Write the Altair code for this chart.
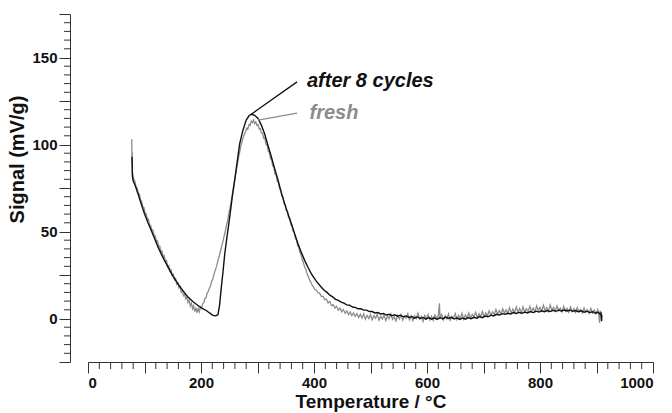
import altair as alt
import pandas as pd

# DSC-type signal (mV/g) versus temperature (°C) for two samples

# Sample after 8 cycles
after_temp = [
    78, 78.5, 80, 84, 88.5, 94, 100, 106, 112, 118, 124, 132, 141.6, 150, 159, 168,
    177, 186, 194.7, 202, 209.5, 215, 221, 226, 230, 233, 236, 239, 242, 246, 250.8,
    255, 259.6, 264, 268.5, 274, 280, 285, 289, 295, 301, 307, 312.7, 318.5, 324.6,
    330.5, 336.5, 342, 348, 354, 360, 366, 371.7, 377.5, 383.5, 389.5, 395.4, 404,
    413, 418, 423, 428, 433, 438, 443, 448, 453, 458, 463, 468, 473, 478, 483, 488,
    493, 498, 503, 508, 513, 518, 523, 528, 533, 538, 543, 548, 553, 558, 563, 568,
    573, 578, 583, 588, 593, 598, 603, 608, 613, 618, 623, 628, 633, 638, 643, 648,
    653, 658, 663, 668, 673, 678, 683, 688, 693, 698, 703, 708, 713, 718, 723, 728,
    733, 738, 743, 748, 753, 758, 763, 768, 773, 778, 783, 788, 793, 798, 803, 808,
    813, 818, 823, 828, 833, 838, 843, 848, 853, 858, 863, 868, 873, 878, 883, 888,
    893, 898, 903, 906, 908, 909, 909.5,
]
after_signal = [
    93, 82, 79, 76, 71.7, 66, 60.2, 55.2, 50.6, 45.8, 41, 35.5, 29.5, 24.5, 20, 16,
    12.3, 9.6, 7.5, 5.8, 4.6, 3.2, 1.8, 1.5, 2.2, 8, 18, 27, 37, 47, 58.3,
    69, 79.4, 90, 100.5, 108, 114, 116.5, 117.4, 116.8, 115, 111, 106, 99.5, 92.8,
    86, 79.4, 72.5, 66, 60, 54.5, 48.5, 43, 38, 33.4, 29.3, 25.7, 21.5,
    18.0, 16.2, 15.0, 13.4, 12.4, 11.0, 10.4, 9.4, 8.8, 7.8, 7.6, 6.6, 6.4, 5.6, 5.6, 4.8,
    4.8, 4.0, 4.0, 3.2, 3.4, 2.6, 2.9, 2.0, 2.4, 1.6, 2.1, 1.3, 1.9, 1.0, 1.5, 0.6,
    1.2, 0.2, 0.9, 0.0, 0.6, -0.4, 0.5, -0.4, 0.4, -0.5, 0.5, -0.2, 0.8, 0.0, 0.7, -0.3,
    0.4, -0.5, 0.3, -0.4, 0.5, -0.1, 0.7, 0.2, 1.1, 0.5, 1.4, 1.0, 1.9, 1.5, 2.4, 2.0,
    2.8, 2.4, 3.0, 2.6, 3.4, 2.9, 3.5, 3.0, 3.7, 3.2, 4.0, 3.4, 4.2, 3.7, 4.4, 3.9,
    4.6, 4.0, 4.7, 4.1, 4.8, 4.3, 4.9, 4.3, 4.8, 4.1, 4.6, 3.9, 4.4, 3.6, 4.2, 3.4,
    3.9, 3.0, 3.5, 2.6, 3.2, -1.5, 2.0,
]

# Fresh sample (noisier trace)
fresh_temp = [
    77.5, 77.8, 78.2, 78.6, 79.5, 81, 83, 85, 87, 89, 91, 93, 95, 97, 99, 101, 103,
    105, 107, 109, 111, 113, 115, 117, 119, 121, 123, 125, 127, 129, 131, 133, 135,
    137, 139, 141, 143, 145, 147, 149, 151, 153, 155, 157, 159, 161, 163, 165, 167,
    169, 171, 173, 175, 177, 179, 181, 183, 185, 187, 189, 191, 193, 195, 197, 199, 201,
    203, 205, 207, 209, 211, 213, 215, 217, 219, 221, 223, 225, 227, 229, 231, 233,
    235, 237, 239, 241, 243, 245, 247, 249, 251, 253, 255, 257, 259, 261, 263, 265,
    267, 269, 271, 273, 275, 277, 279, 281, 283, 285, 287, 289, 291, 293, 295, 297,
    299, 301, 303, 305, 307, 309, 311, 313, 315, 317, 319, 321, 323, 325, 327, 329,
    331, 333, 335, 337, 339, 341, 343, 345, 347, 349, 351, 353, 355, 357, 359, 361,
    363, 365, 367, 369, 371, 373, 375, 377, 379, 381, 383, 385, 387, 389, 391, 393,
    395, 397, 399, 401, 404, 407, 410, 413, 416, 419, 422, 425, 428, 431, 434, 437,
    440, 443, 446, 449, 452, 455, 458, 461, 464, 467, 470, 473, 476,
    479, 482, 485, 488, 491, 494, 497, 500, 503, 506, 509, 512, 515, 518, 521, 524,
    527, 530, 533, 536, 539, 542, 545, 548, 551, 554, 557, 560, 563, 566, 569, 572,
    575, 578, 581, 584, 587, 590, 593, 596, 599, 602, 605, 608, 611, 614, 617, 620,
    622, 623, 626, 629, 632, 635, 638, 641, 644, 647, 650, 653, 656, 659, 662, 665,
    668, 671, 674, 677, 680, 683, 686, 689, 692, 695, 698, 701, 704, 707, 710, 713,
    716, 719, 722, 725, 728, 731, 734, 737, 740, 743, 746, 749, 752, 755, 758, 761,
    764, 767, 770, 773, 776, 779, 782, 785, 788, 791, 794, 797, 800, 803, 806, 809,
    812, 815, 818, 821, 824, 827, 830, 833, 836, 839, 842, 845, 848, 851, 854, 857,
    860, 863, 866, 869, 872, 875, 878, 881, 884, 887, 890, 893, 896, 899, 902, 904,
    905.5, 906.5, 907.5, 909,
]
fresh_signal = [
    103, 88, 96, 84, 82.5, 80.0, 79.0, 75.5, 75.0, 72.0, 71.5, 68.0, 67.5, 64.0, 63.8, 60.5, 60.2,
    57.0, 57.2, 53.8, 53.5, 50.5, 50.8, 47.6, 47.5, 44.2, 44.6, 41.5, 41.6, 38.4, 38.8, 35.4, 36.0,
    32.8, 33.2, 29.9, 30.4, 27.2, 27.9, 24.8, 25.4, 22.2, 23.0, 19.8, 20.6, 17.6, 18.2, 15.2, 16.2,
    13.2, 14.2, 11.3, 12.4, 9.2, 10.6, 7.2, 8.8, 5.6, 7.4, 4.0, 6.2, 3.2, 5.8, 3.8, 6.6, 6.0,
    8.5, 9.2, 11.5, 12.0, 14.8, 15.5, 17.5, 19.0, 21.5, 22.8, 25.5, 27.5, 29.5, 32.0, 34.5, 36.8,
    39.5, 42.0, 44.5, 47.5, 50.0, 53.5, 56.0, 60.0, 63.0, 66.5, 70.5, 74.5, 78.5, 82.0, 86.0, 89.5,
    93.5, 96.5, 100.0, 102.0, 104.5, 106.0, 107.5, 109.5, 109.0, 111.5, 111.0, 113.5, 112.5, 114.0, 112.0, 113.0,
    111.0, 111.5, 109.0, 109.2, 106.5, 106.5, 103.5, 103.8, 100.0, 99.8, 96.0, 95.5, 91.8, 91.2, 87.5, 87.0,
    83.0, 82.6, 78.8, 78.2, 74.5, 74.0, 70.2, 69.8, 66.0, 65.6, 62.0, 61.8, 58.0, 57.6, 54.0, 53.6,
    50.0, 49.4, 46.0, 45.0, 42.0, 41.0, 38.0, 36.8, 34.0, 32.6, 30.0, 28.6, 26.5, 24.8, 23.2, 21.6,
    20.4, 19.0, 18.2, 16.8, 16.4, 14.8, 14.6, 12.6, 12.8, 10.8, 11.2, 9.0, 9.8, 7.4, 8.0, 6.0,
    7.0, 4.8, 6.0, 3.8, 5.2, 3.0, 4.4, 2.2, 3.8, 1.6, 3.2, 1.2, 2.8,
    0.6, 2.4, 0.2, 2.6, -0.4, 1.8, 0.0, 2.2, -0.8, 1.6, 0.2, 2.4, -1.0, 1.2, -0.2, 2.0,
    -1.2, 1.4, 0.0, 2.6, -0.6, 1.0, -1.4, 1.8, -0.2, 2.2, -1.0, 1.2, 0.2, 2.8, -0.8, 1.4,
    -1.2, 1.6, 0.0, 3.0, -0.4, 1.2, -1.6, 1.8, 0.0, 2.4, -0.8, 1.4, -1.0, 2.0, 0.2, 1.6,
    8.8, 0.6, 2.4, -0.8, 1.6, -0.2, 2.6, -1.0, 1.2, 0.2, 2.8, -0.6, 1.8, 0.0, 3.0, -0.4,
    2.0, 0.4, 3.2, 0.2, 2.4, 0.8, 3.6, 0.6, 2.8, 1.0, 4.0, 1.2, 3.2, 1.6, 4.4, 1.8,
    3.8, 2.2, 5.2, 2.4, 4.6, 2.6, 5.6, 3.0, 5.0, 2.8, 6.2, 3.2, 5.4, 3.4, 6.6, 3.6,
    5.8, 3.2, 6.8, 3.8, 5.6, 4.0, 7.0, 4.0, 6.0, 3.8, 7.2, 4.4, 6.4, 4.2, 7.6, 4.6,
    6.2, 4.0, 7.8, 4.8, 6.4, 4.2, 7.2, 4.6, 6.0, 3.8, 7.0, 4.2, 5.8, 3.6, 6.6, 4.0,
    5.6, 3.4, 6.2, 3.8, 5.2, 3.2, 6.0, 3.6, 5.0, 3.0, 5.8, 3.2, 4.8, 2.8, 5.2, 3.0,
    -2.5, 4.5, 1.0, 3.0,
]

# Labels with leader lines from each peak
label_text = ["after 8 cycles", "fresh"]
label_color = ["#111111", "#8c8c8c"]
leader_from_temp = [289, 301]
leader_from_signal = [117.4, 114]
leader_to_temp = [370, 370]
leader_to_signal = [136, 118]
label_temp = [387.5, 392]
label_signal = [136.3, 118.3]

# Major ticks (with labels) and minor ticks
x_major = list(range(0, 1001, 100))
x_minor = [v for v in range(0, 1001, 20) if v % 100 != 0]
y_major = list(range(-25, 176, 25))
y_minor = [v for v in range(-25, 176, 5) if v % 25 != 0]

FONT = "Liberation Sans"
AXIS_COLOR = "#333333"
Y_AXIS_OFFSET = 18
PLOT_W = 565
PLOT_H = 348


def trace(temp, signal):
    return pd.DataFrame({"T": temp, "S": signal, "i": list(range(len(temp)))})


fresh_df = trace(fresh_temp, fresh_signal)
after_df = trace(after_temp, after_signal)
leaders_df = pd.DataFrame({
    "T": leader_from_temp, "S": leader_from_signal,
    "T2": leader_to_temp, "S2": leader_to_signal, "c": label_color,
})
labels_df = pd.DataFrame({
    "T": label_temp, "S": label_signal, "text": label_text, "c": label_color,
})

x_scale = alt.Scale(domain=[0, 1000], nice=False, zero=False)
y_scale = alt.Scale(domain=[-25, 175], nice=False, zero=False)

x_axis = alt.Axis(
    values=x_major,
    tickSize=11,
    labelExpr="datum.value % 200 === 0 ? '' + datum.value : ''",
    labelOverlap=False,
    labelPadding=2,
    title="Temperature / °C",
    titlePadding=2,
    titleFontSize=19,
)
y_axis = alt.Axis(
    values=y_major,
    tickSize=11,
    labelExpr="(datum.value % 50 === 0 && datum.value >= 0) ? '' + datum.value : ''",
    labelOverlap=False,
    labelPadding=2,
    offset=Y_AXIS_OFFSET,
    title="Signal (mV/g)",
    titlePadding=4,
    titleFontSize=20,
    titleY=145,
)

# Same position encodings (and axes) shared by every layer
X_ENC = alt.X("T:Q", scale=x_scale, axis=x_axis)
Y_ENC = alt.Y("S:Q", scale=y_scale, axis=y_axis)

fresh_line = alt.Chart(fresh_df).mark_line(color="#8c8c8c", strokeWidth=1.3).encode(
    x=X_ENC, y=Y_ENC, order="i:Q",
)

after_line = alt.Chart(after_df).mark_line(color="#111111", strokeWidth=1.4).encode(
    x=X_ENC, y=Y_ENC, order="i:Q",
)

# Short minor ticks hanging off the two axis lines
x_minor_ticks = alt.Chart(pd.DataFrame({"T": x_minor})).mark_rule(
    color=AXIS_COLOR, strokeWidth=1
).encode(
    x=X_ENC,
    y=alt.value(PLOT_H),
    y2=alt.value(PLOT_H + 7),
)
y_minor_ticks = alt.Chart(pd.DataFrame({"S": y_minor})).mark_rule(
    color=AXIS_COLOR, strokeWidth=1
).encode(
    y=Y_ENC,
    x=alt.value(-Y_AXIS_OFFSET),
    x2=alt.value(-Y_AXIS_OFFSET - 6),
)

leaders = alt.Chart(leaders_df).mark_rule(strokeWidth=1.3).encode(
    x=X_ENC, y=Y_ENC,
    x2="T2:Q",
    y2="S2:Q",
    color=alt.Color("c:N", scale=None),
)

labels = alt.Chart(labels_df).mark_text(
    align="left", baseline="middle", font=FONT, fontSize=20,
    fontStyle="italic", fontWeight="bold",
).encode(
    x=X_ENC, y=Y_ENC,
    text="text:N",
    color=alt.Color("c:N", scale=None),
)

chart = alt.layer(
    fresh_line, after_line, x_minor_ticks, y_minor_ticks, leaders, labels
).properties(
    width=PLOT_W,
    height=PLOT_H,
    autosize="none",
    padding={"left": 88, "top": 14, "right": 19, "bottom": 51},
).configure_view(
    stroke=None
).configure_axis(
    grid=False,
    domainColor=AXIS_COLOR,
    tickColor=AXIS_COLOR,
    labelFont=FONT,
    labelFontSize=15,
    labelFontWeight="bold",
    labelColor="#111111",
    titleFont=FONT,
    titleFontWeight="bold",
    titleColor="#111111",
)

chart.save("out.html", embed_options={"renderer": "svg", "actions": False})
